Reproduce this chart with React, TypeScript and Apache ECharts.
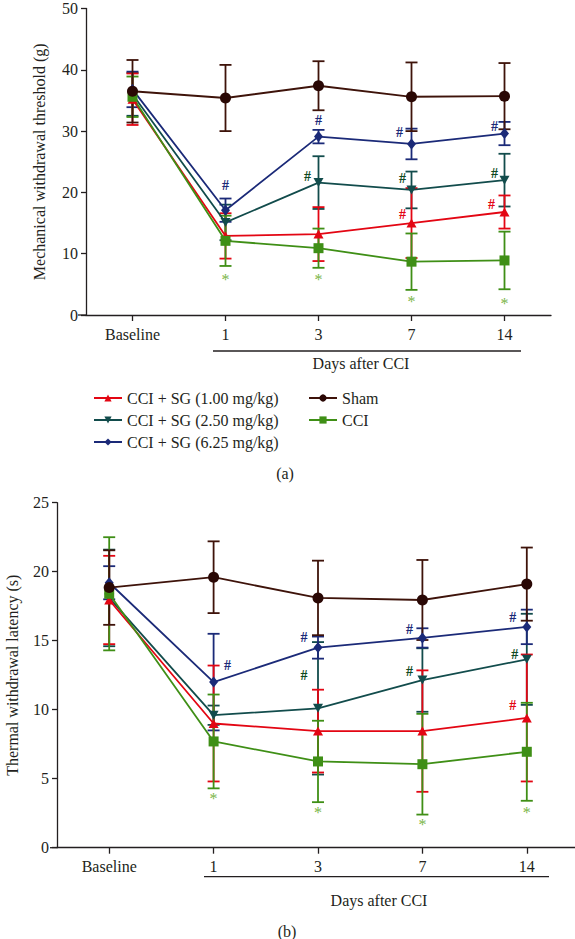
import React, { useEffect, useRef } from 'react';
import * as echarts from 'echarts';

// ---------- data ----------
const categories = ['Baseline', '1', '3', '7', '14'];

const N1 = 'CCI + SG (1.00 mg/kg)';
const N2 = 'CCI + SG (2.50 mg/kg)';
const N3 = 'CCI + SG (6.25 mg/kg)';
const NS = 'Sham';
const NC = 'CCI';

// (a) Mechanical withdrawal threshold (g): mean and SD
const mechSG100 = [35.2, 12.9, 13.2, 15.0, 16.8];
const mechSG100Err = [4.2, 3.7, 4.4, 5.7, 2.7];
const mechSG250 = [36.0, 15.1, 21.6, 20.4, 22.0];
const mechSG250Err = [3.5, 2.9, 4.3, 3.0, 4.3];
const mechSG625 = [36.8, 17.1, 29.1, 27.9, 29.6];
const mechSG625Err = [2.9, 1.9, 1.1, 2.5, 1.9];
const mechSham = [36.5, 35.4, 37.4, 35.6, 35.7];
const mechShamErr = [5.1, 5.4, 4.0, 5.6, 5.4];
const mechCCI = [35.6, 12.1, 10.9, 8.7, 8.9];
const mechCCIErr = [3.3, 4.1, 3.2, 4.6, 4.7];

// (b) Thermal withdrawal latency (s): mean and SD
const thSG100 = [17.95, 9.0, 8.45, 8.45, 9.4];
const thSG100Err = [3.2, 4.2, 3.0, 4.4, 4.6];
const thSG250 = [18.1, 9.6, 10.1, 12.15, 13.65];
const thSG250Err = [3.5, 0.7, 4.8, 2.3, 3.3];
const thSG625 = [19.2, 12.0, 14.5, 15.2, 16.0];
const thSG625Err = [1.2, 3.5, 0.8, 0.7, 1.25];
const thSham = [18.85, 19.6, 18.1, 17.95, 19.1];
const thShamErr = [2.7, 2.6, 2.7, 2.9, 2.65];
const thCCI = [18.4, 7.7, 6.25, 6.05, 6.95];
const thCCIErr = [4.1, 3.4, 2.95, 3.65, 3.55];

// significance marks (value where the mark sits)
const mechHashSG625 = [null, 21.1, 31.8, 29.7, 30.8];
const mechHashSG250 = [null, null, 22.6, 22.2, 23.1];
const mechHashSG100 = [null, null, null, 16.4, 18.0];
const mechStarCCI = [null, 6.3, 6.2, 2.7, 2.4];

const thHashSG625 = [null, 13.2, 15.2, 15.8, 16.7];
const thHashSG250 = [null, null, 12.5, 12.75, 14.0];
const thHashSG100 = [null, null, null, null, 10.3];
const thStarCCI = [null, 3.75, 2.8, 1.9, 2.8];

const mechTicks = { max: 50, interval: 10 };
const thTicks = { max: 25, interval: 5 };

// ---------- styles ----------
const FONT = 'Liberation Serif';
const AX = '#231f20';
const C_RED = '#e30613';
const C_TEAL = '#124c4c';
const C_BLUE = '#1b2a78';
const C_SHAM = '#3e130a';
const C_SHAM_M = '#2a0805';
const C_CCI = '#3f8f16';
const C_STAR = '#7ab648';
const C_HASH_TEAL = '#0e4a22';

// horizontal pixel nudges for the marks (layout only)
const mechDx625 = [0, 0, 0, -12, -10];
const mechDx250 = [0, 0, -11, -9, -10];
const mechDx100 = [0, 0, 0, -9, -13];
const thDx625 = [0, 14, -14, -13, -14];
const thDx250 = [0, 0, -14, -13, -12];
const thDx100 = [0, 0, 0, 0, -14];

function errorSeries(grid: number, name: string, vals: number[], errs: number[], color: string) {
  return {
    type: 'custom',
    name: name + ' err' + grid,
    xAxisIndex: grid,
    yAxisIndex: grid,
    encode: { x: 0, y: [1, 2] },
    data: vals.map((v, i) => [i, v - errs[i], v + errs[i]]),
    renderItem: (params: any, api: any) => {
      const x = api.value(0);
      const lo = api.coord([x, api.value(1)]);
      const hi = api.coord([x, api.value(2)]);
      const w = 6;
      const st = { stroke: color, lineWidth: 1.8 };
      return {
        type: 'group',
        children: [
          { type: 'line', shape: { x1: lo[0], y1: lo[1], x2: hi[0], y2: hi[1] }, style: st },
          { type: 'line', shape: { x1: hi[0] - w, y1: hi[1], x2: hi[0] + w, y2: hi[1] }, style: st },
          { type: 'line', shape: { x1: lo[0] - w, y1: lo[1], x2: lo[0] + w, y2: lo[1] }, style: st },
        ],
      };
    },
    z: 2,
  };
}

function lineSeries(grid: number, name: string, vals: number[], color: string, mColor: string, symbol: string, size: number | number[], rotate = 0) {
  return {
    type: 'line',
    name,
    xAxisIndex: grid,
    yAxisIndex: grid,
    data: vals,
    symbol,
    symbolSize: size,
    symbolRotate: rotate,
    showAllSymbol: true,
    lineStyle: { color, width: 1.8 },
    itemStyle: { color: mColor, borderWidth: 0 },
    z: 3,
  };
}

function markSeries(grid: number, vals: (number | null)[], dx: number[], text: string, color: string, size: number, bold: boolean, dy: number) {
  const data: number[][] = [];
  vals.forEach((v, i) => {
    if (v !== null) data.push([i, v]);
  });
  return {
    type: 'custom',
    name: 'mark' + grid + text + color,
    xAxisIndex: grid,
    yAxisIndex: grid,
    encode: { x: 0, y: 1 },
    data,
    renderItem: (params: any, api: any) => {
      const i = api.value(0);
      const p = api.coord([i, api.value(1)]);
      return {
        type: 'text',
        x: p[0] + dx[i],
        y: p[1] + dy,
        style: {
          text,
          fill: color,
          fontFamily: FONT,
          fontSize: size,
          fontWeight: bold ? 'bold' : 'normal',
          align: 'center',
          verticalAlign: 'middle',
        },
      };
    },
    z: 5,
  };
}

function xAxis(grid: number) {
  return {
    type: 'category',
    gridIndex: grid,
    data: categories,
    boundaryGap: true,
    axisLine: { show: true, lineStyle: { color: AX, width: 1.3 } },
    axisTick: { show: true, alignWithLabel: true, length: 6, lineStyle: { color: AX, width: 1.3 } },
    axisLabel: { interval: 0, margin: 11, fontSize: 16, color: AX, fontFamily: FONT },
    splitLine: { show: false },
  };
}

function yAxis(grid: number, ticks: { max: number; interval: number }, name: string, gap: number) {
  return {
    type: 'value',
    gridIndex: grid,
    min: 0,
    max: ticks.max,
    interval: ticks.interval,
    axisLine: { show: true, lineStyle: { color: AX, width: 1.3 } },
    axisTick: { show: true, length: 5, lineStyle: { color: AX, width: 1.3 } },
    axisLabel: { margin: 8, fontSize: 16, lineHeight: 12, color: AX, fontFamily: FONT },
    splitLine: { show: false },
    name,
    nameLocation: 'middle',
    nameGap: gap,
    nameTextStyle: { fontSize: 16, color: AX, fontFamily: FONT },
  };
}

export default function App() {
  const ref = useRef<HTMLDivElement>(null);

  useEffect(() => {
    if (!ref.current) return;
    const chart = echarts.init(ref.current, undefined, { renderer: 'svg' });

    const groups = (grid: number, d: any) => [
      errorSeries(grid, N2, d.s250, d.s250e, C_TEAL),
      errorSeries(grid, N3, d.s625, d.s625e, C_BLUE),
      errorSeries(grid, N1, d.s100, d.s100e, C_RED),
      errorSeries(grid, NC, d.cci, d.ccie, C_CCI),
      errorSeries(grid, NS, d.sham, d.shame, C_SHAM),
      lineSeries(grid, N2, d.s250, C_TEAL, C_TEAL, 'triangle', [10, 9], 180),
      lineSeries(grid, N3, d.s625, C_BLUE, C_BLUE, 'diamond', [9, 11]),
      lineSeries(grid, N1, d.s100, C_RED, C_RED, 'triangle', [10, 9]),
      lineSeries(grid, NC, d.cci, C_CCI, C_CCI, 'rect', 10),
      lineSeries(grid, NS, d.sham, C_SHAM, C_SHAM_M, 'circle', 11),
    ];

    const series: any[] = [
      ...groups(0, {
        s100: mechSG100, s100e: mechSG100Err, s250: mechSG250, s250e: mechSG250Err,
        s625: mechSG625, s625e: mechSG625Err, sham: mechSham, shame: mechShamErr, cci: mechCCI, ccie: mechCCIErr,
      }),
      ...groups(1, {
        s100: thSG100, s100e: thSG100Err, s250: thSG250, s250e: thSG250Err,
        s625: thSG625, s625e: thSG625Err, sham: thSham, shame: thShamErr, cci: thCCI, ccie: thCCIErr,
      }),
      markSeries(0, mechHashSG625, mechDx625, '#', C_BLUE, 14, true, 0),
      markSeries(0, mechHashSG250, mechDx250, '#', C_HASH_TEAL, 14, true, 0),
      markSeries(0, mechHashSG100, mechDx100, '#', C_RED, 14, true, 0),
      markSeries(0, mechStarCCI, [0, 0, 0, 0, 0], '*', C_STAR, 16, false, 3),
      markSeries(1, thHashSG625, thDx625, '#', C_BLUE, 14, true, 0),
      markSeries(1, thHashSG250, thDx250, '#', C_HASH_TEAL, 14, true, 0),
      markSeries(1, thHashSG100, thDx100, '#', C_RED, 14, true, 0),
      markSeries(1, thStarCCI, [0, 0, 0, 0, 0], '*', C_STAR, 16, false, 3),
    ];

    const legendCommon = {
      orient: 'vertical',
      top: 385,
      itemWidth: 28,
      itemHeight: 9,
      itemGap: 6,
      selectedMode: false,
      textStyle: { fontSize: 16, color: AX, fontFamily: FONT },
    };

    const txt = (x: number, y: number, text: string) => ({
      type: 'text',
      x,
      y,
      style: { text, fill: AX, fontFamily: FONT, fontSize: 16, align: 'center', verticalAlign: 'middle' },
    });
    const ln = (x1: number, y1: number, x2: number, y2: number) => ({
      type: 'line',
      shape: { x1, y1, x2, y2 },
      style: { stroke: AX, lineWidth: 1.3 },
    });

    chart.setOption({
      animation: false,
      textStyle: { fontFamily: FONT },
      grid: [
        { left: 86, top: 8.5, width: 465, height: 306.5, containLabel: false, outerBoundsMode: 'none' },
        { left: 57, top: 502.7, width: 522, height: 345, containLabel: false, outerBoundsMode: 'none' },
      ],
      xAxis: [xAxis(0), xAxis(1)],
      yAxis: [
        yAxis(0, mechTicks, 'Mechanical withdrawal threshold (g)', 39),
        yAxis(1, thTicks, 'Thermal withdrawal latency (s)', 37),
      ],
      legend: [
        { ...legendCommon, left: 88, data: [N1, N2, N3] },
        { ...legendCommon, left: 303, data: [NS, NC] },
      ],
      graphic: [
        ln(78, 315, 86, 315),
        ln(50, 847.7, 57, 847.7),
        ln(213, 351, 521, 351),
        txt(361, 363, 'Days after CCI'),
        ln(204, 876.7, 549, 876.7),
        txt(379, 900, 'Days after CCI'),
        txt(285, 473, '(a)'),
        txt(287, 931, '(b)'),
      ],
      series,
    });

    return () => chart.dispose();
  }, []);

  return (
    <div
      ref={ref}
      style={{ position: 'absolute', left: 0, top: 0, width: 575, height: 939, background: '#fff' }}
    />
  );
}
